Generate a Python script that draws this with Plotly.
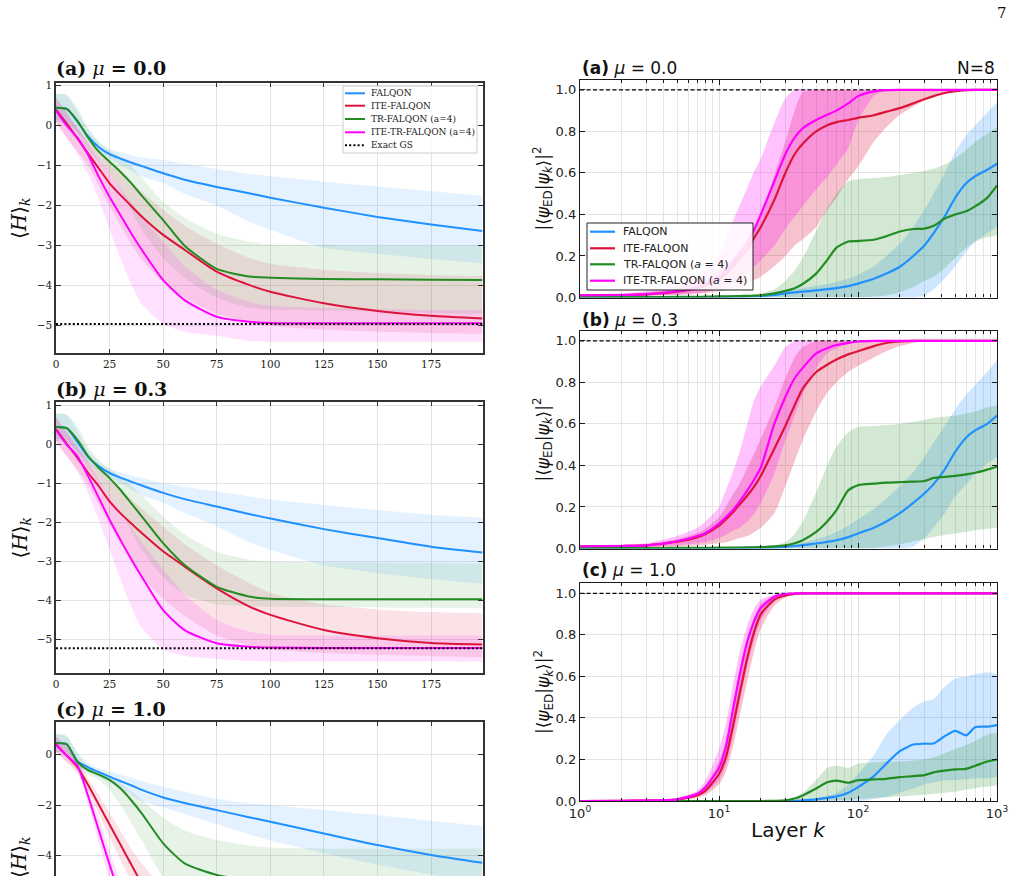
import plotly.graph_objects as go

# ---------------- data ----------------
# left column: <H>_k versus layer k (linear axis)
XL = [0, 5, 10, 15, 20, 25, 30, 35, 40, 50, 60, 75, 90, 100, 125, 150, 175, 199]

L0_FALQON = [0.45, 0.42, 0.1, -0.27, -0.54, -0.71, -0.82, -0.92, -1.01, -1.19, -1.35, -1.53, -1.69, -1.8, -2.05, -2.28, -2.47, -2.63]
L0_FALQON_HI = [0.8, 0.75, 0.35, -0.1, -0.42, -0.58, -0.66, -0.73, -0.79, -0.86, -0.95, -1.08, -1.2, -1.26, -1.4, -1.52, -1.64, -1.75]
L0_FALQON_LO = [0.15, 0.1, -0.15, -0.42, -0.66, -0.82, -0.98, -1.12, -1.27, -1.44, -1.7, -2.0, -2.4, -2.6, -3.05, -3.2, -3.33, -3.44]
L0_ITE = [0.4, 0.05, -0.32, -0.7, -1.07, -1.44, -1.73, -2.0, -2.27, -2.73, -3.1, -3.65, -3.98, -4.15, -4.44, -4.63, -4.75, -4.82]
L0_ITE_HI = [0.7, 0.35, -0.05, -0.4, -0.65, -0.9, -1.15, -1.4, -1.65, -2.1, -2.5, -2.95, -3.3, -3.45, -3.6, -3.68, -3.73, -3.76]
L0_ITE_LO = [0.1, -0.3, -0.65, -1.0, -1.5, -2.0, -2.5, -2.95, -3.35, -3.9, -4.3, -4.7, -4.9, -5.0, -5.1, -5.15, -5.18, -5.2]
L0_TR = [0.45, 0.42, 0.12, -0.3, -0.65, -0.9, -1.15, -1.43, -1.75, -2.36, -3.0, -3.58, -3.77, -3.8, -3.83, -3.84, -3.85, -3.86]
L0_TR_HI = [0.8, 0.78, 0.45, -0.05, -0.4, -0.62, -0.78, -1.0, -1.3, -1.9, -2.3, -2.7, -2.9, -2.97, -2.99, -3.0, -3.0, -3.0]
L0_TR_LO = [0.1, 0.05, -0.2, -0.6, -0.9, -1.2, -1.6, -2.1, -2.6, -3.3, -3.8, -4.3, -4.55, -4.6, -4.62, -4.65, -4.68, -4.7]
L0_ITETR = [0.38, 0.0, -0.3, -0.73, -1.28, -1.78, -2.23, -2.68, -3.1, -3.86, -4.36, -4.78, -4.9, -4.93, -4.94, -4.94, -4.94, -4.94]
L0_ITETR_HI = [0.7, 0.3, -0.05, -0.45, -0.85, -1.2, -1.55, -1.9, -2.25, -2.9, -3.5, -4.1, -4.4, -4.5, -4.55, -4.58, -4.6, -4.6]
L0_ITETR_LO = [0.05, -0.3, -0.7, -1.2, -1.85, -2.6, -3.3, -3.95, -4.45, -4.95, -5.15, -5.25, -5.38, -5.4, -5.4, -5.4, -5.4, -5.4]
L0_GS = -4.96

L3_FALQON = [0.45, 0.42, 0.06, -0.32, -0.56, -0.73, -0.85, -0.95, -1.05, -1.24, -1.4, -1.59, -1.78, -1.9, -2.17, -2.4, -2.62, -2.77]
L3_FALQON_HI = [0.8, 0.75, 0.35, -0.15, -0.45, -0.62, -0.72, -0.8, -0.86, -0.99, -1.08, -1.2, -1.33, -1.41, -1.55, -1.68, -1.8, -1.88]
L3_FALQON_LO = [0.15, 0.1, -0.2, -0.45, -0.68, -0.85, -1.0, -1.15, -1.3, -1.5, -1.75, -2.1, -2.5, -2.7, -3.1, -3.3, -3.45, -3.58]
L3_ITE = [0.4, 0.02, -0.34, -0.73, -1.07, -1.46, -1.76, -2.02, -2.27, -2.74, -3.13, -3.69, -4.15, -4.37, -4.76, -4.97, -5.09, -5.13]
L3_ITE_HI = [0.7, 0.35, -0.05, -0.4, -0.65, -0.9, -1.15, -1.4, -1.65, -2.1, -2.55, -3.1, -3.55, -3.8, -4.1, -4.23, -4.3, -4.33]
L3_ITE_LO = [0.1, -0.3, -0.65, -1.05, -1.55, -2.05, -2.55, -3.0, -3.4, -3.95, -4.4, -4.9, -5.15, -5.25, -5.35, -5.4, -5.43, -5.45]
L3_TR = [0.45, 0.42, 0.12, -0.3, -0.6, -0.86, -1.16, -1.5, -1.84, -2.53, -3.09, -3.65, -3.9, -3.96, -3.97, -3.97, -3.97, -3.97]
L3_TR_HI = [0.8, 0.78, 0.45, -0.05, -0.4, -0.62, -0.82, -1.05, -1.3, -1.85, -2.3, -2.75, -2.95, -3.0, -3.02, -3.03, -3.04, -3.05]
L3_TR_LO = [0.1, 0.05, -0.2, -0.6, -0.95, -1.3, -1.7, -2.2, -2.7, -3.4, -3.85, -4.1, -4.15, -4.16, -4.17, -4.18, -4.19, -4.2]
L3_ITETR = [0.38, 0.0, -0.3, -0.81, -1.37, -1.93, -2.44, -2.93, -3.39, -4.25, -4.76, -5.1, -5.19, -5.21, -5.22, -5.22, -5.22, -5.22]
L3_ITETR_HI = [0.7, 0.3, -0.05, -0.45, -0.9, -1.3, -1.7, -2.1, -2.5, -3.2, -3.85, -4.5, -4.8, -4.88, -4.9, -4.9, -4.9, -4.9]
L3_ITETR_LO = [0.05, -0.3, -0.7, -1.25, -1.95, -2.7, -3.45, -4.15, -4.7, -5.25, -5.42, -5.5, -5.55, -5.57, -5.57, -5.57, -5.57, -5.57]
L3_GS = -5.23

L10_FALQON = [0.45, 0.4, -0.27, -0.51, -0.7, -0.88, -1.05, -1.22, -1.4, -1.7, -1.92, -2.2, -2.48, -2.66, -3.12, -3.58, -3.97, -4.28]
L10_FALQON_HI = [0.8, 0.7, 0.1, -0.35, -0.55, -0.68, -0.8, -0.92, -1.05, -1.28, -1.48, -1.75, -1.93, -2.0, -2.2, -2.4, -2.62, -2.83]
L10_FALQON_LO = [0.1, 0.05, -0.5, -0.7, -0.9, -1.1, -1.35, -1.6, -1.85, -2.1, -2.35, -2.75, -3.15, -3.4, -3.9, -4.35, -4.75, -5.1]
L10_ITE = [0.4, -0.05, -0.5, -1.21, -1.99, -2.77, -3.55, -4.33, -5.1, -6.4, -7.2, -7.7, -7.9, -8.0, -8.1, -8.15, -8.2, -8.2]
L10_ITE_HI = [0.7, 0.3, -0.2, -0.95, -1.6, -2.3, -3.0, -3.7, -4.3, -5.3, -6.1, -6.8, -7.2, -7.4, -7.6, -7.7, -7.75, -7.8]
L10_ITE_LO = [0.1, -0.3, -0.75, -1.45, -2.35, -3.25, -4.15, -5.0, -5.8, -7.0, -7.8, -8.3, -8.5, -8.6, -8.7, -8.75, -8.8, -8.8]
L10_TR = [0.45, 0.4, -0.3, -0.62, -0.8, -1.01, -1.34, -1.8, -2.33, -3.51, -4.3, -4.76, -4.95, -5.0, -5.05, -5.05, -5.05, -5.05]
L10_TR_HI = [0.8, 0.75, 0.0, -0.45, -0.65, -0.85, -1.1, -1.45, -1.8, -2.5, -3.0, -3.38, -3.6, -3.68, -3.72, -3.72, -3.72, -3.72]
L10_TR_LO = [0.1, 0.05, -0.6, -0.8, -1.0, -1.4, -2.0, -2.7, -3.4, -4.85, -5.5, -6.0, -6.2, -6.25, -6.3, -6.3, -6.3, -6.3]
L10_ITETR = [0.38, -0.05, -0.45, -1.65, -3.0, -4.35, -5.6, -6.6, -7.4, -8.2, -8.5, -8.6, -8.62, -8.63, -8.63, -8.63, -8.63, -8.63]
L10_ITETR_HI = [0.7, 0.3, -0.25, -1.35, -2.5, -3.8, -5.0, -6.0, -6.9, -7.9, -8.2, -8.35, -8.4, -8.4, -8.4, -8.4, -8.4, -8.4]
L10_ITETR_LO = [0.05, -0.3, -0.65, -1.95, -3.5, -5.0, -6.3, -7.3, -8.0, -8.6, -8.8, -8.9, -8.9, -8.9, -8.9, -8.9, -8.9, -8.9]
L10_GS = -8.7

# right column: fidelity versus layer k (log axis)
K = [1, 2, 3, 5, 7, 8, 10, 11.2, 12.6, 14, 16, 18, 20, 25, 30, 35, 40, 50, 60, 70, 85, 100,
     130, 160, 200, 250, 300, 350, 420, 500, 600, 700, 850, 1000]

R0_FALQON = [0.001, 0.001, 0.001, 0.002, 0.002, 0.002, 0.003, 0.003, 0.004, 0.004, 0.005, 0.006, 0.007, 0.012, 0.02, 0.025, 0.028, 0.034, 0.04, 0.045, 0.055, 0.067, 0.09, 0.115, 0.148, 0.2, 0.25, 0.31, 0.39, 0.48, 0.55, 0.585, 0.615, 0.645]
R0_FALQON_HI = [0.003, 0.003, 0.003, 0.004, 0.004, 0.005, 0.006, 0.006, 0.007, 0.008, 0.009, 0.01, 0.012, 0.02, 0.03, 0.04, 0.045, 0.055, 0.065, 0.075, 0.09, 0.11, 0.15, 0.2, 0.26, 0.34, 0.42, 0.5, 0.6, 0.7, 0.78, 0.83, 0.89, 0.94]
R0_FALQON_LO = [0.0, 0.0, 0.0, 0.0, 0.0, 0.0, 0.0, 0.0, 0.0, 0.0, 0.0, 0.0, 0.0, 0.0, 0.0, 0.0, 0.0, 0.0, 0.0, 0.0, 0.0, 0.0, 0.0, 0.0, 0.0, 0.0, 0.01, 0.04, 0.09, 0.15, 0.22, 0.27, 0.31, 0.34]
R0_ITE = [0.01, 0.011, 0.015, 0.028, 0.045, 0.058, 0.09, 0.115, 0.15, 0.19, 0.235, 0.29, 0.34, 0.47, 0.6, 0.69, 0.74, 0.8, 0.83, 0.845, 0.855, 0.865, 0.878, 0.895, 0.912, 0.935, 0.955, 0.97, 0.985, 0.994, 0.999, 1.0, 1.0, 1.0]
R0_ITE_HI = [0.013, 0.018, 0.025, 0.045, 0.07, 0.09, 0.13, 0.16, 0.19, 0.23, 0.28, 0.33, 0.38, 0.59, 0.75, 0.9, 0.99, 1.0, 1.0, 1.0, 1.0, 1.0, 1.0, 1.0, 1.0, 1.0, 1.0, 1.0, 1.0, 1.0, 1.0, 1.0, 1.0, 1.0]
R0_ITE_LO = [0.006, 0.007, 0.008, 0.012, 0.018, 0.022, 0.03, 0.036, 0.045, 0.055, 0.07, 0.085, 0.1, 0.15, 0.2, 0.25, 0.28, 0.34, 0.42, 0.48, 0.57, 0.63, 0.75, 0.82, 0.88, 0.92, 0.95, 0.97, 0.985, 0.995, 1.0, 1.0, 1.0, 1.0]
R0_TR = [0.002, 0.002, 0.002, 0.003, 0.003, 0.004, 0.005, 0.005, 0.006, 0.007, 0.008, 0.009, 0.011, 0.02, 0.032, 0.045, 0.065, 0.115, 0.18, 0.24, 0.27, 0.272, 0.278, 0.295, 0.318, 0.33, 0.332, 0.345, 0.38, 0.4, 0.415, 0.44, 0.48, 0.54]
R0_TR_HI = [0.004, 0.004, 0.004, 0.004, 0.004, 0.005, 0.006, 0.007, 0.008, 0.01, 0.012, 0.015, 0.02, 0.04, 0.08, 0.13, 0.19, 0.32, 0.43, 0.5, 0.56, 0.57, 0.575, 0.58, 0.59, 0.6, 0.61, 0.62, 0.64, 0.67, 0.71, 0.75, 0.79, 0.82]
R0_TR_LO = [0.0, 0.0, 0.0, 0.0, 0.0, 0.0, 0.0, 0.0, 0.0, 0.0, 0.0, 0.0, 0.0, 0.0, 0.0, 0.0, 0.0, 0.0, 0.0, 0.0, 0.0, 0.0, 0.005, 0.01, 0.025, 0.05, 0.08, 0.1, 0.14, 0.19, 0.24, 0.27, 0.29, 0.3]
R0_ITETR = [0.01, 0.012, 0.016, 0.03, 0.05, 0.065, 0.1, 0.13, 0.17, 0.21, 0.26, 0.33, 0.4, 0.56, 0.69, 0.77, 0.815, 0.855, 0.88, 0.9, 0.935, 0.97, 0.993, 0.999, 1.0, 1.0, 1.0, 1.0, 1.0, 1.0, 1.0, 1.0, 1.0, 1.0]
R0_ITETR_HI = [0.015, 0.02, 0.03, 0.06, 0.1, 0.13, 0.2, 0.28, 0.37, 0.44, 0.53, 0.61, 0.67, 0.84, 0.96, 1.0, 1.0, 1.0, 1.0, 1.0, 1.0, 1.0, 1.0, 1.0, 1.0, 1.0, 1.0, 1.0, 1.0, 1.0, 1.0, 1.0, 1.0, 1.0]
R0_ITETR_LO = [0.005, 0.006, 0.008, 0.014, 0.022, 0.028, 0.045, 0.058, 0.075, 0.09, 0.12, 0.15, 0.18, 0.25, 0.33, 0.39, 0.44, 0.52, 0.58, 0.64, 0.72, 0.85, 0.97, 1.0, 1.0, 1.0, 1.0, 1.0, 1.0, 1.0, 1.0, 1.0, 1.0, 1.0]

R3_FALQON = [0.001, 0.001, 0.001, 0.001, 0.002, 0.002, 0.002, 0.002, 0.002, 0.003, 0.003, 0.003, 0.003, 0.005, 0.008, 0.012, 0.016, 0.024, 0.032, 0.04, 0.055, 0.072, 0.1, 0.13, 0.17, 0.22, 0.265, 0.31, 0.38, 0.465, 0.535, 0.57, 0.6, 0.64]
R3_FALQON_HI = [0.003, 0.003, 0.003, 0.003, 0.003, 0.003, 0.003, 0.003, 0.003, 0.003, 0.003, 0.003, 0.003, 0.01, 0.015, 0.02, 0.028, 0.045, 0.06, 0.08, 0.11, 0.14, 0.19, 0.24, 0.3, 0.37, 0.44, 0.51, 0.59, 0.67, 0.74, 0.79, 0.85, 0.91]
R3_FALQON_LO = [0.0, 0.0, 0.0, 0.0, 0.0, 0.0, 0.0, 0.0, 0.0, 0.0, 0.0, 0.0, 0.0, 0.0, 0.0, 0.0, 0.0, 0.0, 0.0, 0.0, 0.0, 0.0, 0.0, 0.0, 0.0, 0.01, 0.05, 0.1, 0.17, 0.25, 0.31, 0.36, 0.41, 0.44]
R3_ITE = [0.01, 0.012, 0.015, 0.033, 0.055, 0.07, 0.11, 0.14, 0.175, 0.21, 0.255, 0.3, 0.35, 0.48, 0.59, 0.69, 0.77, 0.85, 0.885, 0.91, 0.935, 0.95, 0.975, 0.99, 0.997, 1.0, 1.0, 1.0, 1.0, 1.0, 1.0, 1.0, 1.0, 1.0]
R3_ITE_HI = [0.012, 0.015, 0.02, 0.045, 0.075, 0.095, 0.15, 0.2, 0.26, 0.31, 0.39, 0.46, 0.53, 0.68, 0.82, 0.92, 0.97, 1.0, 1.0, 1.0, 1.0, 1.0, 1.0, 1.0, 1.0, 1.0, 1.0, 1.0, 1.0, 1.0, 1.0, 1.0, 1.0, 1.0]
R3_ITE_LO = [0.004, 0.005, 0.006, 0.01, 0.015, 0.018, 0.025, 0.03, 0.04, 0.05, 0.06, 0.08, 0.1, 0.17, 0.3, 0.42, 0.52, 0.66, 0.75, 0.8, 0.85, 0.88, 0.92, 0.95, 0.975, 0.99, 1.0, 1.0, 1.0, 1.0, 1.0, 1.0, 1.0, 1.0]
R3_TR = [0.002, 0.002, 0.002, 0.003, 0.003, 0.003, 0.004, 0.004, 0.004, 0.004, 0.005, 0.006, 0.007, 0.01, 0.015, 0.025, 0.04, 0.08, 0.13, 0.185, 0.28, 0.305, 0.312, 0.317, 0.32, 0.322, 0.325, 0.34, 0.345, 0.35, 0.357, 0.365, 0.38, 0.395]
R3_TR_HI = [0.004, 0.004, 0.004, 0.005, 0.005, 0.006, 0.006, 0.007, 0.008, 0.009, 0.01, 0.01, 0.012, 0.015, 0.03, 0.07, 0.13, 0.27, 0.4, 0.49, 0.56, 0.585, 0.59, 0.595, 0.6, 0.61, 0.62, 0.63, 0.635, 0.64, 0.65, 0.66, 0.68, 0.69]
R3_TR_LO = [0.0, 0.0, 0.0, 0.0, 0.0, 0.0, 0.0, 0.0, 0.0, 0.0, 0.0, 0.0, 0.0, 0.0, 0.0, 0.0, 0.0, 0.0, 0.0, 0.0, 0.0, 0.0, 0.003, 0.01, 0.02, 0.035, 0.045, 0.055, 0.065, 0.072, 0.08, 0.088, 0.095, 0.1]
R3_ITETR = [0.01, 0.012, 0.015, 0.035, 0.06, 0.075, 0.12, 0.15, 0.185, 0.225, 0.28, 0.335, 0.39, 0.6, 0.73, 0.82, 0.87, 0.94, 0.965, 0.98, 0.99, 0.997, 1.0, 1.0, 1.0, 1.0, 1.0, 1.0, 1.0, 1.0, 1.0, 1.0, 1.0, 1.0]
R3_ITETR_HI = [0.015, 0.02, 0.025, 0.06, 0.1, 0.13, 0.2, 0.28, 0.37, 0.46, 0.6, 0.72, 0.78, 0.88, 0.97, 1.0, 1.0, 1.0, 1.0, 1.0, 1.0, 1.0, 1.0, 1.0, 1.0, 1.0, 1.0, 1.0, 1.0, 1.0, 1.0, 1.0, 1.0, 1.0]
R3_ITETR_LO = [0.005, 0.006, 0.008, 0.015, 0.025, 0.03, 0.05, 0.065, 0.085, 0.1, 0.13, 0.17, 0.22, 0.36, 0.52, 0.64, 0.74, 0.87, 0.94, 0.965, 0.99, 1.0, 1.0, 1.0, 1.0, 1.0, 1.0, 1.0, 1.0, 1.0, 1.0, 1.0, 1.0, 1.0]

R10_FALQON = [0.0, 0.0, 0.0, 0.0, 0.0, 0.0, 0.0, 0.0, 0.0, 0.0, 0.0, 0.0, 0.0, 0.0, 0.0, 0.0, 0.003, 0.008, 0.015, 0.022, 0.04, 0.067, 0.12, 0.18, 0.24, 0.272, 0.276, 0.277, 0.312, 0.338, 0.316, 0.356, 0.358, 0.366]
R10_FALQON_HI = [0.0, 0.0, 0.0, 0.0, 0.0, 0.0, 0.0, 0.0, 0.0, 0.0, 0.0, 0.0, 0.0, 0.0, 0.0, 0.003, 0.005, 0.015, 0.025, 0.04, 0.08, 0.13, 0.22, 0.32, 0.39, 0.45, 0.48, 0.49, 0.55, 0.59, 0.6, 0.61, 0.62, 0.61]
R10_FALQON_LO = [0.0, 0.0, 0.0, 0.0, 0.0, 0.0, 0.0, 0.0, 0.0, 0.0, 0.0, 0.0, 0.0, 0.0, 0.0, 0.0, 0.0, 0.0, 0.0, 0.0, 0.0, 0.0, 0.01, 0.02, 0.04, 0.06, 0.08, 0.09, 0.1, 0.1, 0.105, 0.11, 0.11, 0.115]
R10_ITE = [0.0, 0.001, 0.002, 0.007, 0.028, 0.05, 0.13, 0.21, 0.36, 0.51, 0.69, 0.82, 0.9, 0.97, 0.99, 0.998, 1.0, 1.0, 1.0, 1.0, 1.0, 1.0, 1.0, 1.0, 1.0, 1.0, 1.0, 1.0, 1.0, 1.0, 1.0, 1.0, 1.0, 1.0]
R10_ITE_HI = [0.0, 0.001, 0.004, 0.012, 0.04, 0.075, 0.19, 0.29, 0.46, 0.61, 0.78, 0.89, 0.95, 0.99, 0.998, 1.0, 1.0, 1.0, 1.0, 1.0, 1.0, 1.0, 1.0, 1.0, 1.0, 1.0, 1.0, 1.0, 1.0, 1.0, 1.0, 1.0, 1.0, 1.0]
R10_ITE_LO = [0.0, 0.0, 0.001, 0.004, 0.016, 0.03, 0.08, 0.14, 0.26, 0.4, 0.58, 0.73, 0.83, 0.94, 0.98, 0.995, 1.0, 1.0, 1.0, 1.0, 1.0, 1.0, 1.0, 1.0, 1.0, 1.0, 1.0, 1.0, 1.0, 1.0, 1.0, 1.0, 1.0, 1.0]
R10_TR = [0.0, 0.0, 0.0, 0.0, 0.0, 0.0, 0.0, 0.0, 0.0, 0.0, 0.0, 0.0, 0.0, 0.001, 0.003, 0.012, 0.027, 0.06, 0.09, 0.098, 0.088, 0.1, 0.104, 0.107, 0.115, 0.12, 0.125, 0.138, 0.146, 0.152, 0.155, 0.17, 0.19, 0.2]
R10_TR_HI = [0.0, 0.0, 0.0, 0.0, 0.0, 0.0, 0.0, 0.0, 0.0, 0.0, 0.0, 0.0, 0.0, 0.0, 0.005, 0.02, 0.04, 0.1, 0.16, 0.17, 0.16, 0.18, 0.185, 0.19, 0.19, 0.195, 0.2, 0.21, 0.23, 0.25, 0.27, 0.29, 0.32, 0.33]
R10_TR_LO = [0.0, 0.0, 0.0, 0.0, 0.0, 0.0, 0.0, 0.0, 0.0, 0.0, 0.0, 0.0, 0.0, 0.0, 0.0, 0.0, 0.0, 0.0, 0.002, 0.004, 0.006, 0.01, 0.015, 0.018, 0.022, 0.027, 0.03, 0.035, 0.04, 0.045, 0.055, 0.062, 0.07, 0.075]
R10_ITETR = [0.0, 0.001, 0.003, 0.008, 0.035, 0.067, 0.16, 0.26, 0.44, 0.6, 0.77, 0.87, 0.93, 0.984, 0.997, 1.0, 1.0, 1.0, 1.0, 1.0, 1.0, 1.0, 1.0, 1.0, 1.0, 1.0, 1.0, 1.0, 1.0, 1.0, 1.0, 1.0, 1.0, 1.0]
R10_ITETR_HI = [0.0, 0.002, 0.005, 0.015, 0.05, 0.1, 0.25, 0.37, 0.56, 0.71, 0.85, 0.93, 0.97, 0.995, 1.0, 1.0, 1.0, 1.0, 1.0, 1.0, 1.0, 1.0, 1.0, 1.0, 1.0, 1.0, 1.0, 1.0, 1.0, 1.0, 1.0, 1.0, 1.0, 1.0]
R10_ITETR_LO = [0.0, 0.0, 0.001, 0.005, 0.02, 0.04, 0.1, 0.17, 0.31, 0.46, 0.65, 0.78, 0.87, 0.96, 0.99, 0.998, 1.0, 1.0, 1.0, 1.0, 1.0, 1.0, 1.0, 1.0, 1.0, 1.0, 1.0, 1.0, 1.0, 1.0, 1.0, 1.0, 1.0, 1.0]

NAMES_LEFT = ["FALQON", "ITE-FALQON", "TR-FALQON (a=4)", "ITE-TR-FALQON (a=4)", "Exact GS"]
NAMES_RIGHT = ["FALQON", "ITE-FALQON", "TR-FALQON (<i>a</i> = 4)", "ITE-TR-FALQON (<i>a</i> = 4)"]
LEFT_TITLES = ["(a)", "(b)", "(c)"]
MU_LABELS = ["0.0", "0.3", "1.0"]
DECADES = [1, 10, 100, 1000]
DECADE_TEXT = ["10<sup>0</sup>", "10<sup>1</sup>", "10<sup>2</sup>", "10<sup>3</sup>"]
MINOR_K = [2, 3, 4, 5, 6, 7, 8, 9, 20, 30, 40, 50, 60, 70, 80, 90, 200, 300, 400, 500, 600, 700, 800, 900]

# ---------------- style ----------------
W, H = 1021, 876
BLUE, RED, GREEN, MAGENTA = "#1E90FF", "#DC143C", "#228B22", "#FF00FF"
COLORS = [BLUE, RED, GREEN, MAGENTA]
ALPHA_L = [0.12, 0.12, 0.10, 0.12]
ALPHA_R = [0.22, 0.26, 0.20, 0.24]


def px(x):
    return x / W


def py(y):
    return 1 - y / H


def rgba(h, a):
    h = h.lstrip("#")
    return "rgba(%d,%d,%d,%.3f)" % (int(h[0:2], 16), int(h[2:4], 16), int(h[4:6], 16), a)


fig = go.Figure()

left_sets = [
    [(L0_FALQON, L0_FALQON_LO, L0_FALQON_HI), (L0_ITE, L0_ITE_LO, L0_ITE_HI),
     (L0_TR, L0_TR_LO, L0_TR_HI), (L0_ITETR, L0_ITETR_LO, L0_ITETR_HI)],
    [(L3_FALQON, L3_FALQON_LO, L3_FALQON_HI), (L3_ITE, L3_ITE_LO, L3_ITE_HI),
     (L3_TR, L3_TR_LO, L3_TR_HI), (L3_ITETR, L3_ITETR_LO, L3_ITETR_HI)],
    [(L10_FALQON, L10_FALQON_LO, L10_FALQON_HI), (L10_ITE, L10_ITE_LO, L10_ITE_HI),
     (L10_TR, L10_TR_LO, L10_TR_HI), (L10_ITETR, L10_ITETR_LO, L10_ITETR_HI)],
]
left_gs = [L0_GS, L3_GS, L10_GS]
right_sets = [
    [(R0_FALQON, R0_FALQON_LO, R0_FALQON_HI), (R0_ITE, R0_ITE_LO, R0_ITE_HI),
     (R0_TR, R0_TR_LO, R0_TR_HI), (R0_ITETR, R0_ITETR_LO, R0_ITETR_HI)],
    [(R3_FALQON, R3_FALQON_LO, R3_FALQON_HI), (R3_ITE, R3_ITE_LO, R3_ITE_HI),
     (R3_TR, R3_TR_LO, R3_TR_HI), (R3_ITETR, R3_ITETR_LO, R3_ITETR_HI)],
    [(R10_FALQON, R10_FALQON_LO, R10_FALQON_HI), (R10_ITE, R10_ITE_LO, R10_ITE_HI),
     (R10_TR, R10_TR_LO, R10_TR_HI), (R10_ITETR, R10_ITETR_LO, R10_ITETR_HI)],
]


def add_panel(x, sets, alphas, xa, ya, lw):
    for (mean, lo, hi), c, a in zip(sets, COLORS, alphas):
        fig.add_trace(go.Scatter(x=x, y=hi, xaxis=xa, yaxis=ya, mode="lines",
                                 line=dict(width=0, shape="spline", smoothing=0.6, color=c),
                                 showlegend=False, hoverinfo="skip"))
        fig.add_trace(go.Scatter(x=x, y=lo, xaxis=xa, yaxis=ya, mode="lines",
                                 line=dict(width=0, shape="spline", smoothing=0.6, color=c),
                                 fill="tonexty", fillcolor=rgba(c, a),
                                 showlegend=False, hoverinfo="skip"))
    for (mean, lo, hi), c in zip(sets, COLORS):
        fig.add_trace(go.Scatter(x=x, y=mean, xaxis=xa, yaxis=ya, mode="lines",
                                 line=dict(width=lw, shape="spline", smoothing=0.6, color=c),
                                 showlegend=False))


# left panels
for i in range(3):
    xa, ya = ("x", "y") if i == 0 else ("x%d" % (i + 1), "y%d" % (i + 1))
    add_panel(XL, left_sets[i], ALPHA_L, xa, ya, 2.0)
    fig.add_trace(go.Scatter(x=[XL[0], XL[-1]], y=[left_gs[i], left_gs[i]], xaxis=xa, yaxis=ya,
                             mode="lines", line=dict(color="black", width=2, dash="2px,2.2px"),
                             showlegend=False))

# right panels
for i in range(3):
    xa, ya = "x%d" % (i + 4), "y%d" % (i + 4)
    fig.add_trace(go.Scatter(x=[K[0], K[-1]], y=[1.0, 1.0], xaxis=xa, yaxis=ya, mode="lines",
                             line=dict(color="black", width=1.1, dash="4px,2.5px"), showlegend=False))
    add_panel(K, right_sets[i], ALPHA_R, xa, ya, 2.2)

# ---------------- axes ----------------
LEFT_DOM_X = [px(56), px(482.5)]
RIGHT_DOM_X = [px(580), px(997)]
left_dom_y = [[py(353.3), py(82.7)], [py(673.3), py(401.7)], [0.0, py(721.7)]]
left_rng_y = [[-5.69, 1.075], [-5.87, 1.10], [-4.80, 1.29]]
right_dom_y = [[py(297.5), py(79.5)], [py(548.5), py(330.5)], [py(801), py(583)]]

lax = dict(showline=True, linecolor="#333333", linewidth=1.5, mirror="ticks", ticks="inside",
           ticklen=5, tickwidth=1, tickcolor="#333333", showgrid=True, gridcolor="#e3e3e3",
           gridwidth=1, zeroline=False, automargin=False,
           tickfont=dict(family="DejaVu Serif", size=10.5, color="#222222"))
rax = dict(showline=True, linecolor="#1a1a1a", linewidth=1.3, mirror="ticks", ticks="inside",
           ticklen=5, tickwidth=1, tickcolor="#1a1a1a", showgrid=True, gridcolor="#e2e2e2",
           gridwidth=1, zeroline=False, automargin=False,
           tickfont=dict(family="DejaVu Sans", size=13, color="#222222"))

layout_axes = {}
for i in range(3):
    xn = "xaxis" if i == 0 else "xaxis%d" % (i + 1)
    yn = "yaxis" if i == 0 else "yaxis%d" % (i + 1)
    xa = dict(lax, domain=LEFT_DOM_X, range=[0, 199], tickvals=[0, 25, 50, 75, 100, 125, 150, 175],
              anchor="y" if i == 0 else "y%d" % (i + 1))
    if i == 2:
        xa.update(side="top", mirror=False, showticklabels=False)
    ya = dict(lax, domain=left_dom_y[i], range=left_rng_y[i],
              anchor="x" if i == 0 else "x%d" % (i + 1))
    if i == 2:
        ya.update(tickvals=[-4, -2, 0])
    else:
        ya.update(tickvals=[-5, -4, -3, -2, -1, 0, 1])
    layout_axes[xn] = xa
    layout_axes[yn] = ya

for i in range(3):
    xn, yn = "xaxis%d" % (i + 4), "yaxis%d" % (i + 4)
    xa = dict(rax, type="log", domain=RIGHT_DOM_X, range=[0, 3], tickvals=DECADES,
              ticktext=DECADE_TEXT, anchor="y%d" % (i + 4), showticklabels=(i == 2),
              minor=dict(tickmode="array", tickvals=MINOR_K, ticks="inside", ticklen=3,
                         tickcolor="#1a1a1a", showgrid=True, gridcolor="#e6e6e6", gridwidth=1))
    ya = dict(rax, domain=right_dom_y[i], range=[0, 1.05], tickvals=[0, 0.2, 0.4, 0.6, 0.8, 1.0],
              ticktext=["0.0", "0.2", "0.4", "0.6", "0.8", "1.0"], anchor="x%d" % (i + 4))
    layout_axes[xn] = xa
    layout_axes[yn] = ya

fig.update_layout(width=W, height=H, margin=dict(l=0, r=0, t=0, b=0),
                  paper_bgcolor="white", plot_bgcolor="white", showlegend=False,
                  **layout_axes)

# ---------------- text ----------------
ann = []


def text(x, y, s, size, family, color="#111111", xanchor="left", yanchor="middle", angle=0):
    ann.append(dict(x=px(x), y=py(y), xref="paper", yref="paper", text=s, showarrow=False,
                    xanchor=xanchor, yanchor=yanchor, textangle=angle,
                    font=dict(size=size, family=family, color=color)))


left_title_y = [68, 388.5, 708.5]
right_title_y = [68, 320, 569.5]
for i in range(3):
    text(54, left_title_y[i], "<b>%s</b> <i>μ</i> <b>= %s</b>" % (LEFT_TITLES[i], MU_LABELS[i]),
         19, "DejaVu Serif")
    text(580, right_title_y[i], "<b>%s</b> <i>μ</i> = %s" % (LEFT_TITLES[i], MU_LABELS[i]),
         17, "DejaVu Sans")

text(997, 68, "N=8", 17, "DejaVu Sans", xanchor="right")

left_label_y = [218, 537.5, 857]
for yy in left_label_y:
    text(20, yy, "⟨<i>H</i>⟩<sub><i>k</i></sub>", 20, "DejaVu Serif", xanchor="center", angle=-90)

right_label_y = [188.5, 439.5, 692]
for yy in right_label_y:
    text(543, yy, "|⟨<i>ψ</i><sub>ED</sub>|<i>ψ</i><sub><i>k</i></sub>⟩|<sup>2</sup>", 17,
         "DejaVu Sans", xanchor="center", angle=-90)

text(788, 830, "Layer <i>k</i>", 20, "DejaVu Sans", xanchor="center")
text(1002, 13, "7", 15, "DejaVu Serif", xanchor="center")

# ---------------- legends (drawn) ----------------
shapes = []
# left legend
shapes.append(dict(type="rect", xref="paper", yref="paper", x0=px(343), x1=px(477), y0=py(153),
                   y1=py(86), line=dict(color="#cccccc", width=1), fillcolor="rgba(255,255,255,0.85)"))
left_rows = [93.3, 105.7, 119.0, 132.3, 145.3]
for j, yy in enumerate(left_rows):
    if j < 4:
        shapes.append(dict(type="line", xref="paper", yref="paper", x0=px(345), x1=px(365),
                           y0=py(yy), y1=py(yy), line=dict(color=COLORS[j], width=2)))
    else:
        shapes.append(dict(type="line", xref="paper", yref="paper", x0=px(345), x1=px(365),
                           y0=py(yy), y1=py(yy), line=dict(color="black", width=2, dash="2px,2.2px")))
    text(369, yy, NAMES_LEFT[j], 9, "DejaVu Serif", color="#222222")

# right legend
shapes.append(dict(type="rect", xref="paper", yref="paper", x0=px(587), x1=px(753), y0=py(290),
                   y1=py(223), line=dict(color="#222222", width=1), fillcolor="rgba(255,255,255,0.85)"))
right_rows = [231.7, 248.3, 264.3, 280.7]
for j, yy in enumerate(right_rows):
    shapes.append(dict(type="line", xref="paper", yref="paper", x0=px(590), x1=px(615),
                       y0=py(yy), y1=py(yy), line=dict(color=COLORS[j], width=2.2)))
    text(621, yy, NAMES_RIGHT[j], 11, "DejaVu Sans", color="#222222")

fig.update_layout(annotations=ann, shapes=shapes)
fig.write_html("out.html")
